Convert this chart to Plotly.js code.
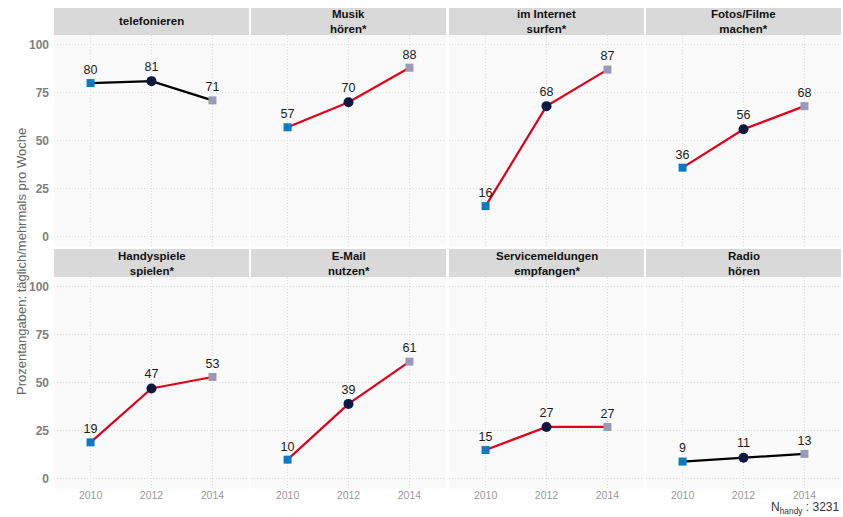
<!DOCTYPE html>
<html>
<head>
<meta charset="utf-8">
<script src="https://cdn.plot.ly/plotly-3.0.1.min.js"></script>
<style>html,body{margin:0;padding:0;background:#fff;}#chart{width:843px;height:517px;}</style>
</head>
<body>
<div id="chart"></div>
<script>
const years = [2010, 2012, 2014];
const yTicks = [0, 25, 50, 75, 100];
const stripLabels = [
  "telefonieren",
  "Musik<br>hören*",
  "im Internet<br>surfen*",
  "Fotos/Filme<br>machen*",
  "Handyspiele<br>spielen*",
  "E-Mail<br>nutzen*",
  "Servicemeldungen<br>empfangen*",
  "Radio<br>hören"
];
const telefonieren = [80, 81, 71];
const musikHoeren = [57, 70, 88];
const internetSurfen = [16, 68, 87];
const fotosFilme = [36, 56, 68];
const handyspiele = [19, 47, 53];
const emailNutzen = [10, 39, 61];
const servicemeldungen = [15, 27, 27];
const radioHoeren = [9, 11, 13];
const seriesValues = [telefonieren, musikHoeren, internetSurfen, fotosFilme, handyspiele, emailNutzen, servicemeldungen, radioHoeren];
const yAxisTitle = "Prozentangaben: täglich/mehrmals pro Woche";
const sampleNote = "N<sub>handy</sub> : 3231";

// ---- layout / styles ----
const W = 843, H = 517;
const FONT = "Liberation Sans, Arial, Helvetica, sans-serif";
const colX = [[54, 249], [251, 446], [449, 644], [646, 841]];
const rowY = [[35, 246.5], [277, 488.5]];
const stripY = [[8, 35], [249, 277]];
const markerSymbols = ["square", "circle", "square"];
const markerColors = ["#0A7BC2", "#0B1840", "#9A9AB4"];
const markerSizes = [8, 10, 8];

const px = v => v / W;
const py = v => 1 - v / H;

const data = [];
const layout = {
  width: W, height: H,
  margin: {l: 0, r: 0, t: 0, b: 0},
  paper_bgcolor: "#ffffff",
  plot_bgcolor: "#FAFAFA",
  showlegend: false,
  font: {family: FONT},
  shapes: [],
  annotations: []
};

seriesValues.forEach((vals, i) => {
  const r = Math.floor(i / 4), c = i % 4;
  const n = i + 1;
  const xa = n === 1 ? "x" : "x" + n;
  const ya = n === 1 ? "y" : "y" + n;
  const starred = stripLabels[i].indexOf("*") >= 0;
  data.push({
    type: "scatter",
    mode: "lines+markers+text",
    x: years, y: vals,
    xaxis: xa, yaxis: ya,
    text: vals.map(String),
    textposition: "top center",
    textfont: {family: FONT, size: 12.5, color: "#1a1a1a"},
    line: {color: starred ? "#E0001A" : "#000000", width: 2.2},
    marker: {symbol: markerSymbols, color: markerColors, size: markerSizes, opacity: 1, line: {width: 0}},
    cliponaxis: false,
    hoverinfo: "skip"
  });
  const xKey = n === 1 ? "xaxis" : "xaxis" + n;
  const yKey = n === 1 ? "yaxis" : "yaxis" + n;
  layout[xKey] = {
    domain: [px(colX[c][0]), px(colX[c][1])],
    anchor: ya,
    range: [2008.8, 2015.2],
    tickvals: years,
    ticktext: years.map(String),
    showticklabels: r === 1,
    ticks: "",
    ticklabelstandoff: -1,
    tickfont: {family: FONT, size: 10.5, color: "#9a9a9a"},
    showgrid: true, gridcolor: "#dcdcdc", griddash: "1px,2px", gridwidth: 1,
    zeroline: false, showline: false, fixedrange: true
  };
  layout[yKey] = {
    domain: [py(rowY[r][1]), py(rowY[r][0])],
    anchor: xa,
    range: [-5, 105],
    tickvals: yTicks,
    ticktext: yTicks.map(String),
    showticklabels: c === 0,
    ticks: "",
    ticklabelstandoff: 4,
    tickfont: {family: FONT, size: 12, color: "#7f7f7f", weight: "bold"},
    showgrid: true, gridcolor: "#dcdcdc", griddash: "1px,2px", gridwidth: 1,
    zeroline: false, showline: false, fixedrange: true
  };
  layout.shapes.push({
    type: "rect", xref: "paper", yref: "paper",
    x0: px(colX[c][0]), x1: px(colX[c][1]),
    y0: py(stripY[r][1]), y1: py(stripY[r][0]),
    fillcolor: "#D9D9D9", line: {width: 0}, layer: "below"
  });
  layout.annotations.push({
    xref: "paper", yref: "paper",
    x: px((colX[c][0] + colX[c][1]) / 2),
    y: py((stripY[r][0] + stripY[r][1]) / 2),
    xanchor: "center", yanchor: "middle",
    text: "<b>" + stripLabels[i] + "</b>",
    showarrow: false,
    font: {family: FONT, size: 11.5, color: "#111111"}
  });
});

layout.annotations.push({
  xref: "paper", yref: "paper",
  x: px(21), y: py(262),
  xanchor: "center", yanchor: "middle",
  text: yAxisTitle, textangle: -90, showarrow: false,
  font: {family: FONT, size: 13, color: "#666666"}
});
layout.annotations.push({
  xref: "paper", yref: "paper",
  x: px(841), y: 0,
  xanchor: "right", yanchor: "bottom",
  borderpad: 0,
  text: sampleNote, showarrow: false,
  font: {family: FONT, size: 12, color: "#333333"}
});

Plotly.newPlot("chart", data, layout, {staticPlot: true, displayModeBar: false});
</script>
</body>
</html>
